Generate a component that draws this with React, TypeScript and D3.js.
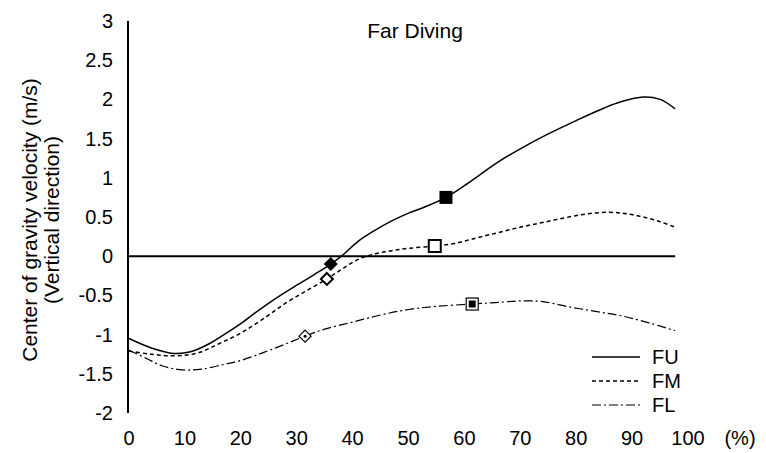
import React from "react";
import * as d3 from "d3";

const xTicks = [0, 10, 20, 30, 40, 50, 60, 70, 80, 90, 100];
const yTicks = [3, 2.5, 2, 1.5, 1, 0.5, 0, -0.5, -1, -1.5, -2];

const fuX = [0, 4, 8, 11, 14, 17, 20, 23, 26, 30, 33, 36.1, 38, 41, 44, 47, 50, 53, 56.7, 60, 63, 66, 70, 75, 80, 85, 88, 92, 95, 97.7];
const fuY = [-1.05, -1.17, -1.24, -1.22, -1.13, -1.0, -0.86, -0.7, -0.55, -0.37, -0.24, -0.1, 0.0, 0.19, 0.33, 0.45, 0.55, 0.63, 0.75, 0.9, 1.05, 1.2, 1.37, 1.56, 1.73, 1.89, 1.97, 2.03, 2.0, 1.88];

const fmX = [0, 4, 8, 12, 16, 20, 24, 28, 32, 35.4, 38, 41, 44, 47, 50, 54.7, 58, 62, 66, 70, 74, 78, 82, 86, 89, 92, 95, 97.7];
const fmY = [-1.21, -1.25, -1.27, -1.24, -1.12, -0.98, -0.8, -0.6, -0.43, -0.29, -0.17, -0.04, 0.03, 0.07, 0.1, 0.13, 0.16, 0.23, 0.3, 0.37, 0.43, 0.49, 0.54, 0.56, 0.54, 0.5, 0.44, 0.37];

const flX = [0, 3, 6, 9.5, 13, 17, 20, 24, 28, 31.5, 35, 40, 45, 50, 55, 61.4, 66, 70, 74, 79, 84, 88, 93, 97.7];
const flY = [-1.2, -1.3, -1.4, -1.45, -1.44, -1.38, -1.33, -1.23, -1.12, -1.02, -0.93, -0.84, -0.75, -0.68, -0.64, -0.61, -0.59, -0.57, -0.58, -0.65, -0.71, -0.76, -0.85, -0.95];

// marker points: [x, y]
const fuDiamond = [36.1, -0.1];
const fuSquare = [56.7, 0.75];
const fmDiamond = [35.4, -0.29];
const fmSquare = [54.7, 0.13];
const flDiamond = [31.5, -1.02];
const flSquare = [61.4, -0.61];

const seriesNames = ["FU", "FM", "FL"];

const FONT = "'Liberation Sans', Arial, sans-serif";
const FS = 20;
const FT = 21;

export default function App() {
  const W = 766, H = 453;
  const x = d3.scaleLinear().domain([0, 100]).range([129, 688]);
  const y = d3.scaleLinear().domain([-2, 3]).range([413, 21]);

  const mk = (xs: number[], ys: number[]) =>
    d3.line<number>()
      .x((_, i) => x(xs[i]))
      .y((d) => y(d))
      .curve(d3.curveCatmullRom.alpha(0.5))(ys) || "";

  const dashes = ["", "4,3", "9,3,2,3"];
  const widths = [1.5, 1.5, 1.2];
  const paths = [mk(fuX, fuY), mk(fmX, fmY), mk(flX, flY)];
  const xEnd = fuX[fuX.length - 1];

  const diamond = (cx: number, cy: number, r: number) =>
    `M${cx},${cy - r}L${cx + r},${cy}L${cx},${cy + r}L${cx - r},${cy}Z`;

  return (
    <svg width={W} height={H} style={{ position: "absolute", left: 0, top: 0, background: "#fff" }} fontFamily={FONT}>
      <rect x={0} y={0} width={W} height={H} fill="#fff" />
      {/* title */}
      <text x={415} y={38} textAnchor="middle" fontSize={FT}>Far Diving</text>
      {/* y axis title */}
      <g transform={`translate(37,220) rotate(-90)`}>
        <text x={0} y={0} textAnchor="middle" fontSize={FT}>Center of gravity velocity (m/s)</text>
        <text x={0} y={22} textAnchor="middle" fontSize={FT}>(Vertical direction)</text>
      </g>
      {/* y ticks */}
      {yTicks.map((t) => (
        <text key={t} x={113} y={y(t) + 7} textAnchor="end" fontSize={FS}>{t}</text>
      ))}
      {/* x ticks */}
      {xTicks.map((t) => (
        <text key={t} x={x(t)} y={445} textAnchor="middle" fontSize={FS}>{t}</text>
      ))}
      <text x={740} y={445} textAnchor="middle" fontSize={FS}>(%)</text>
      {/* axes */}
      <line x1={128} x2={128} y1={y(3)} y2={y(-2)} stroke="#000" strokeWidth={2} />
      <line x1={128} x2={x(xEnd)} y1={y(0)} y2={y(0)} stroke="#000" strokeWidth={2} />
      {/* series */}
      {paths.map((p, i) => (
        <path key={i} d={p} fill="none" stroke="#000" strokeWidth={widths[i]} strokeDasharray={dashes[i] || undefined} />
      ))}
      {/* markers */}
      <path d={diamond(x(fuDiamond[0]), y(fuDiamond[1]), 6.5)} fill="#000" stroke="#000" strokeWidth={1} />
      <rect x={x(fuSquare[0]) - 6.5} y={y(fuSquare[1]) - 6.5} width={13} height={13} fill="#000" />
      <path d={diamond(x(fmDiamond[0]), y(fmDiamond[1]), 6)} fill="#fff" stroke="#000" strokeWidth={2} />
      <rect x={x(fmSquare[0]) - 6} y={y(fmSquare[1]) - 6} width={12} height={12} fill="#fff" stroke="#000" strokeWidth={2} />
      <path d={diamond(x(flDiamond[0]), y(flDiamond[1]), 6)} fill="#fff" stroke="#000" strokeWidth={1.2} />
      <circle cx={x(flDiamond[0])} cy={y(flDiamond[1])} r={1.5} fill="#000" />
      <rect x={x(flSquare[0]) - 6} y={y(flSquare[1]) - 6} width={12} height={12} fill="#fff" stroke="#000" strokeWidth={1.2} />
      <rect x={x(flSquare[0]) - 3.5} y={y(flSquare[1]) - 3.5} width={7} height={7} fill="#000" />
      {/* legend */}
      {seriesNames.map((n, i) => (
        <g key={n}>
          <line x1={592} x2={640} y1={357 + i * 24} y2={357 + i * 24} stroke="#000" strokeWidth={widths[i]} strokeDasharray={dashes[i] || undefined} />
          <text x={652} y={357 + i * 24 + 7} fontSize={FS}>{n}</text>
        </g>
      ))}
    </svg>
  );
}
